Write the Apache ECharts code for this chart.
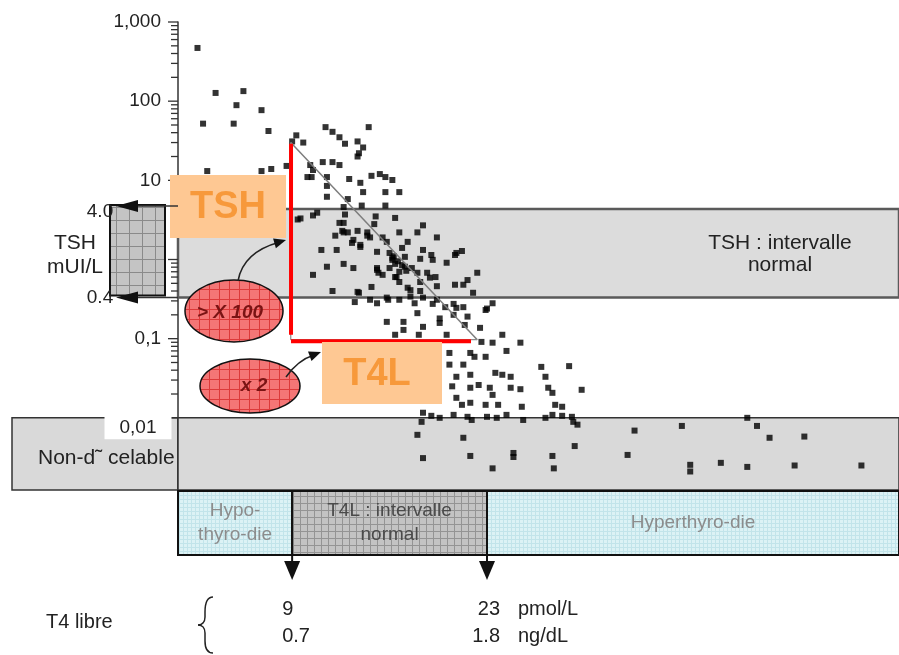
<!DOCTYPE html>
<html>
<head>
<meta charset="utf-8">
<title>TSH / T4 libre</title>
<script src="https://cdn.jsdelivr.net/npm/echarts@6/dist/echarts.min.js"></script>
<style>
    html, body { margin: 0; padding: 0; background: #fff; }
    #chart { width: 899px; height: 655px; }
</style>
</head>
<body>
<div id="chart"></div>
<script>

// Data
// ------------------------------

// [T4 libre (pmol/L), TSH (mUI/L)]
var patients = [
    [2.2,470],[3.5,127],[5.5,134],[5.0,89],[6.8,77],[2.6,52],[4.8,52],[7.3,42],[9.3,37],[9.0,31],[9.8,30],
    [2.9,13.1],[6.8,13.1],[7.5,13.9],[8.6,15.2],[10.1,11.0],[9.4,3.2],
    [11.4,47],[11.9,41],[12.4,35],[12.8,29],[13.7,31],[14.5,47],[14.1,26],[13.8,22],[13.7,20],
    [11.2,17],[11.9,17],[12.4,15.6],[10.3,15.6],[10.5,13.5],[10.4,11.0],[13.1,10.4],[13.9,9.3],
    [14.7,11.4],[15.3,12.0],[15.7,11.0],[16.2,10.1],[11.5,8.5],[14.1,7.1],[15.7,7.1],[16.7,7.1],
    [13.0,5.8],[11.5,6.2],[12.7,4.6],[14.0,4.8],[15.7,4.8],[10.8,3.9],[9.6,3.3],[12.8,3.7],
    [12.7,2.9],[15.0,3.5],[16.4,3.35],[14.9,2.8],[18.4,2.7],[12.6,2.3],[12.1,2.0],[13.7,2.3],
    [14.4,2.0],[16.7,2.2],[18.0,2.2],[19.4,1.9],[11.1,1.32],[12.2,1.32],[13.3,1.62],[13.9,1.44],
    [15.1,1.25],[15.8,1.67],[17.3,1.67],[16.9,1.40],[18.4,1.32],[21.2,1.28],[20.7,1.14],[16.2,1.05],
    [17.1,1.08],[18.2,1.02],[19.0,1.14],[10.5,0.64],[11.5,0.81],[12.7,0.88],[13.4,0.78],[15.1,0.78],
    [16.0,0.78],[16.7,0.70],[17.6,0.78],[20.1,0.91],[15.2,0.68],[16.4,0.60],[16.7,0.52],[18.7,0.68],
    [19.3,0.60],[20.7,0.48],[21.3,0.48],[22.3,0.68],[11.9,0.40],[13.8,0.38],[14.7,0.45],[17.3,0.44],
    [18.2,0.40],[19.4,0.46],[22.0,0.38],[13.5,0.29],[14.6,0.31],[15.1,0.28],[15.9,0.31],[17.8,0.28],
    [18.4,0.33],[19.1,0.275],[20.6,0.275],[21.3,0.25],[22.9,0.23],[23.4,0.28],[15.8,0.163],[17.0,0.163],
    [18.0,0.21],[18.4,0.141],[19.6,0.18],[20.6,0.20],[21.6,0.19],[22.5,0.137],[16.4,0.112],[17.0,0.129],
    [18.1,0.112],[22.6,0.091],[23.4,0.089],
    [12.4,2.9],[12.7,2.2],[13.4,1.77],[13.9,1.53],[14.4,2.2],[15.5,1.9],[16.0,1.21],[16.2,0.99],
    [15.1,0.74],[15.5,0.64],[16.5,0.60],[17.1,0.81],[17.5,0.41],[18.0,0.68],[18.2,0.52],[18.9,0.59],
    [19.1,0.99],[20.8,1.21],[21.6,0.55],[13.7,0.39],[15.8,0.33],[16.7,0.31],[17.5,0.34],[19.4,0.31],
    [20.0,0.25],[20.8,0.245],[23.0,0.24],[19.6,0.158],[21.4,0.149],
    [16.3,1.1],[16.6,0.95],[16.9,0.85],[17.2,0.72],[16.4,0.88],[13.0,2.2],[14.6,1.9],[10.5,3.6],[11.5,11.0],
    [20.1,0.112],[24.1,0.112],[25.4,0.089],[24.4,0.070],[20.3,0.066],[21.8,0.066],[22.1,0.059],[22.9,0.059],
    [20.3,0.047],[21.3,0.047],[23.6,0.037],[24.1,0.035],[20.8,0.033],[21.8,0.035],[24.7,0.033],[26.9,0.044],
    [27.2,0.033],[28.9,0.045],[20.5,0.025],[21.8,0.024],[22.4,0.026],[23.2,0.024],[23.4,0.0195],[24.7,0.024],
    [25.4,0.023],[27.4,0.024],[27.7,0.0207],[20.8,0.0179],[21.2,0.0146],[21.8,0.0155],[22.9,0.0146],[23.8,0.0146],
    [25.5,0.0138],[27.9,0.0146],[28.4,0.0138],[18.4,0.0116],[19.0,0.0106],[19.6,0.0100],[20.6,0.0109],[21.6,0.0103],
    [21.9,0.0094],[23.0,0.0103],[23.7,0.0100],[24.4,0.0109],[25.6,0.0094],[27.2,0.0100],[27.7,0.0109],[28.4,0.0106],
    [29.1,0.0103],[18.3,0.0089],[29.2,0.0089],[29.8,0.0226],
    [29.5,0.0082],[29.3,0.0044],[33.6,0.0069],[33.1,0.0034],[37.0,0.0079],[37.6,0.00255],[37.6,0.0021],[39.8,0.0027],
    [41.7,0.0100],[42.4,0.0079],[41.7,0.0024],[43.3,0.0056],[45.1,0.0025],[45.8,0.0058],[49.9,0.0025],
    [18.0,0.0061],[18.4,0.0031],[21.3,0.0056],[21.8,0.0033],[23.4,0.0023],[24.9,0.0036],[24.9,0.0032],[27.7,0.0033],[27.8,0.0023]
];

// TSH normal band as drawn (labelled 0.4 - 4.0)
var tshBand = [0.33, 4.35];
var tshLabels = ['0.4', '4.0'];
// detection limit and lower edge of the "non-détectable" band
var detectBand = [0.00123, 0.01];
// T4L normal interval (pmol/L)
var t4Normal = [9, 23];

// regression line and the triangle legs
var regression = [[8.9, 30], [22.3, 0.097]];
var redVertical = [[8.92, 29], [8.92, 0.112]];
var redHorizontal = [[8.92, 0.093], [21.85, 0.093]];

// y axis ticks
var majorTicks = [1000, 100, 10, 1, 0.1, 0.01];
var tickLabels = { '1000': '1,000', '100': '100', '10': '10', '0.1': '0,1' };

// bottom zones
var zones = [
    { text: 'Hypo-\nthyro-die', from: 0.8, to: 9 },
    { text: 'T4L : intervalle\nnormal', from: 9, to: 23 },
    { text: 'Hyperthyro-die', from: 23, to: 52.6 }
];


// Setup
// ------------------------------

var FONT = '"Liberation Sans", Arial, sans-serif';
var X_MIN = 0.8, X_MAX = 52.6;

// small canvas tile for the hatched fills
function gridPattern(bg, line, step) {
    var c = document.createElement('canvas');
    c.width = step;
    c.height = step;
    var g = c.getContext('2d');
    g.fillStyle = bg;
    g.fillRect(0, 0, step, step);
    g.strokeStyle = line;
    g.lineWidth = 1;
    g.beginPath();
    g.moveTo(step - 0.5, 0); g.lineTo(step - 0.5, step);
    g.moveTo(0, step - 0.5); g.lineTo(step, step - 0.5);
    g.stroke();
    return { image: c, repeat: 'repeat' };
}

var cyanFill = gridPattern('#dcf2f5', '#c2e4ea', 4);
var greyFill = gridPattern('#c3c3c3', '#949494', 7);
var boxFill = gridPattern('#c4c4c4', '#8a8a8a', 13);
var redFill = gridPattern('#f47676', '#dc3a3a', 10);

var minorTicks = [];
for (var e = -2; e < 3; e++) {
    for (var m = 2; m < 10; m++) {
        minorTicks.push(+(m * Math.pow(10, e)).toPrecision(3));
    }
}
var tickData = [];
majorTicks.forEach(function(v) { tickData.push([X_MIN, v, 1]); });
minorTicks.forEach(function(v) { tickData.push([X_MIN, v, 0]); });

var chart = echarts.init(document.getElementById('chart'));

chart.setOption({
    animation: false,
    textStyle: { fontFamily: FONT },
    grid: [
        { left: 178, right: 0, top: 22, height: 475 },
        { left: 178, right: 0, top: 491, height: 64 }
    ],
    xAxis: [
        { type: 'value', min: X_MIN, max: X_MAX, show: false },
        { type: 'value', gridIndex: 1, min: X_MIN, max: X_MAX, show: false }
    ],
    yAxis: [
        {
            type: 'log',
            min: 0.001,
            max: 1000,
            splitNumber: 6,
            axisLine: { show: true, lineStyle: { color: '#333', width: 1.5 } },
            axisTick: { show: false },
            splitLine: { show: false },
            axisLabel: {
                margin: 17,
                fontSize: 19,
                color: '#222',
                formatter: function(v) {
                    return tickLabels[String(+v.toPrecision(6))] || '';
                }
            }
        },
        { type: 'value', gridIndex: 1, min: 0, max: 1, show: false }
    ],
    series: [
        {
            // shaded bands
            type: 'scatter',
            data: [],
            z: 1,
            silent: true,
            markArea: {
                silent: true,
                data: [
                    [
                        { yAxis: tshBand[1], itemStyle: { color: '#dcdcdc', borderColor: '#5a5a5a', borderWidth: 2.5 } },
                        { yAxis: tshBand[0] }
                    ],
                    [
                        { yAxis: detectBand[1], itemStyle: { color: '#d9d9d9', borderColor: '#333', borderWidth: 1.5 } },
                        { yAxis: detectBand[0] }
                    ]
                ]
            }
        },
        {
            type: 'scatter',
            data: patients,
            symbol: 'rect',
            symbolSize: [6, 6],
            itemStyle: { color: '#000' },
            z: 3
        },
        {
            type: 'line',
            data: regression,
            symbol: 'none',
            lineStyle: { color: '#7d7d7d', width: 1.5 },
            z: 4
        },
        {
            type: 'line',
            data: [regression[0], [regression[0][0], regression[1][1]], regression[1]],
            symbol: 'none',
            lineStyle: { color: '#8a8a8a', width: 1.2 },
            z: 4
        },
        {
            type: 'line',
            data: redVertical,
            symbol: 'none',
            lineStyle: { color: '#ff0000', width: 4 },
            z: 5
        },
        {
            type: 'line',
            data: redHorizontal,
            symbol: 'none',
            lineStyle: { color: '#ff0000', width: 4 },
            z: 5
        },
        {
            // log ticks of the TSH axis
            type: 'custom',
            data: tickData,
            encode: { x: 0, y: 1 },
            clip: false,
            silent: true,
            z: 6,
            renderItem: function(params, api) {
                var p = api.coord([api.value(0), api.value(1)]);
                var len = api.value(2) ? 10 : 7;
                return {
                    type: 'line',
                    shape: { x1: p[0] - len, y1: p[1], x2: p[0], y2: p[1] },
                    style: { stroke: '#333', lineWidth: 1.3 }
                };
            }
        },
        {
            // T4L zones under the plot
            type: 'scatter',
            xAxisIndex: 1,
            yAxisIndex: 1,
            data: [],
            silent: true,
            markArea: {
                silent: true,
                data: zones.map(function(z, i) {
                    return [
                        {
                            xAxis: z.from, yAxis: 0,
                            itemStyle: { color: i === 1 ? greyFill : cyanFill, borderColor: '#111', borderWidth: 2 },
                            label: {
                                show: true,
                                position: 'inside',
                                formatter: z.text,
                                fontSize: 19,
                                lineHeight: 24,
                                color: i === 1 ? '#4a4a4a' : '#8c8c8c'
                            }
                        },
                        { xAxis: z.to, yAxis: 1 }
                    ];
                })
            }
        }
    ]
});


// Annotations placed from the axes
// ------------------------------

function toPx(x, y) { return chart.convertToPixel({ gridIndex: 0 }, [x, y]); }

var axisX = toPx(X_MIN, 1)[0];
var yTshTop = toPx(X_MIN, tshBand[1])[1];
var yTshBot = toPx(X_MIN, tshBand[0])[1];
var yDetTop = toPx(X_MIN, detectBand[1])[1];
var yDetBot = toPx(X_MIN, detectBand[0])[1];
var xLow = chart.convertToPixel({ gridIndex: 1 }, [t4Normal[0], 0])[0];
var xHigh = chart.convertToPixel({ gridIndex: 1 }, [t4Normal[1], 0])[0];
var zoneBottom = chart.convertToPixel({ gridIndex: 1 }, [X_MIN, 0])[1];

function txt(text, x, y, opt) {
    var s = {
        text: text, x: x, y: y,
        fontFamily: FONT, fontSize: 20, fill: '#222',
        align: 'center', verticalAlign: 'middle'
    };
    for (var k in opt) s[k] = opt[k];
    return { type: 'text', z: 60, style: s };
}

function arrowHead(x, y, dx, dy, len, w) {
    var n = Math.sqrt(dx * dx + dy * dy);
    dx /= n; dy /= n;
    var bx = x - dx * len, by = y - dy * len;
    return {
        type: 'polygon', z: 60,
        shape: { points: [[x, y], [bx - dy * w, by + dx * w], [bx + dy * w, by - dx * w]] },
        style: { fill: '#111' }
    };
}

var g = [];

// left part of the non-detectable band
g.push({ type: 'rect', z: 0, shape: { x: 12, y: yDetTop, width: axisX - 12, height: yDetBot - yDetTop },
    style: { fill: '#d9d9d9', stroke: '#333', lineWidth: 1.5 } });
g.push(txt('0,01', 138, yDetTop + 10, { fontSize: 19, backgroundColor: '#fff', padding: [2, 15, 2, 15] }));
g.push(txt('Non-d\u02dc celable', 38, yDetTop + 40, { align: 'left', fontSize: 21 }));

// TSH scale box at the left
g.push({ type: 'rect', z: 50, shape: { x: 110, y: yTshTop - 4, width: 55, height: yTshBot - yTshTop + 2 },
    style: { fill: boxFill, stroke: '#111', lineWidth: 2 } });
[yTshTop - 3, yTshBot].forEach(function(y) {
    g.push({ type: 'line', z: 55, shape: { x1: 136, y1: y, x2: axisX, y2: y }, style: { stroke: '#333', lineWidth: 1.5 } });
    g.push(arrowHead(116, y, -1, 0, 22, 6));
});
g.push(txt(tshLabels[1], 100, yTshTop + 3, { fontSize: 19 }));
g.push(txt(tshLabels[0], 100, yTshBot, { fontSize: 19 }));
g.push(txt('TSH', 75, 243, { fontSize: 21 }));
g.push(txt('mUI/L', 75, 267, { fontSize: 21 }));

// TSH normal band caption
g.push(txt('TSH : intervalle\nnormal', 780, 254, { fontSize: 21, lineHeight: 22 }));

// orange tags
g.push({ type: 'rect', z: 50, shape: { x: 170, y: 175, width: 116, height: 63 }, style: { fill: '#fec893' } });
g.push(txt('TSH', 228, 208, { fontSize: 38, fontWeight: 'bold', fill: '#f7993b' }));
g.push({ type: 'rect', z: 50, shape: { x: 322, y: 342, width: 120, height: 62 }, style: { fill: '#fec893' } });
g.push(txt('T4L', 377, 375, { fontSize: 38, fontWeight: 'bold', fill: '#f7993b' }));

// red ellipses with arrows
g.push({ type: 'ellipse', z: 55, shape: { cx: 234, cy: 311, rx: 49, ry: 31 }, style: { fill: redFill, stroke: '#111', lineWidth: 1.5 } });
g.push(txt('> X 100', 230, 313, { fontSize: 19, fontWeight: 'bold', fontStyle: 'italic', fill: '#7a1414' }));
g.push({ type: 'ellipse', z: 55, shape: { cx: 250, cy: 386, rx: 50, ry: 27 }, style: { fill: redFill, stroke: '#111', lineWidth: 1.5 } });
g.push(txt('x 2', 254, 386, { fontSize: 19, fontWeight: 'bold', fontStyle: 'italic', fill: '#7a1414' }));

g.push({ type: 'bezierCurve', z: 58, shape: { x1: 238, y1: 281, x2: 280, y2: 242, cpx1: 243, cpy1: 252 },
    style: { stroke: '#222', lineWidth: 1.5, fill: null } });
g.push(arrowHead(286, 240, 38, -11, 12, 5));
g.push({ type: 'bezierCurve', z: 58, shape: { x1: 286, y1: 377, x2: 314, y2: 355, cpx1: 298, cpy1: 360 },
    style: { stroke: '#222', lineWidth: 1.5, fill: null } });
g.push(arrowHead(321, 352, 16, -6, 12, 5));

// arrows under the T4L zones
[xLow, xHigh].forEach(function(x) {
    g.push({ type: 'line', z: 55, shape: { x1: x, y1: zoneBottom, x2: x, y2: zoneBottom + 8 }, style: { stroke: '#111', lineWidth: 2 } });
    g.push({ type: 'polygon', z: 55, shape: { points: [[x - 8, zoneBottom + 6], [x + 8, zoneBottom + 6], [x, zoneBottom + 25]] },
        style: { fill: '#111' } });
});

// T4 libre units
g.push(txt('T4 libre', 46, 622, { align: 'left', fontSize: 20 }));
g.push({ type: 'bezierCurve', z: 55, shape: { x1: 213, y1: 597, x2: 205, y2: 612, cpx1: 207, cpy1: 597, cpx2: 205, cpy2: 603 }, style: { stroke: '#222', lineWidth: 1.5, fill: null } });
g.push({ type: 'line', z: 55, shape: { x1: 205, y1: 612, x2: 205, y2: 617 }, style: { stroke: '#222', lineWidth: 1.5 } });
g.push({ type: 'bezierCurve', z: 55, shape: { x1: 205, y1: 617, x2: 198, y2: 625, cpx1: 205, cpy1: 622, cpx2: 202, cpy2: 625 }, style: { stroke: '#222', lineWidth: 1.5, fill: null } });
g.push({ type: 'bezierCurve', z: 55, shape: { x1: 198, y1: 625, x2: 205, y2: 633, cpx1: 202, cpy1: 625, cpx2: 205, cpy2: 628 }, style: { stroke: '#222', lineWidth: 1.5, fill: null } });
g.push({ type: 'line', z: 55, shape: { x1: 205, y1: 633, x2: 205, y2: 641 }, style: { stroke: '#222', lineWidth: 1.5 } });
g.push({ type: 'bezierCurve', z: 55, shape: { x1: 205, y1: 641, x2: 213, y2: 653, cpx1: 205, cpy1: 648, cpx2: 207, cpy2: 653 }, style: { stroke: '#222', lineWidth: 1.5, fill: null } });

g.push(txt(String(t4Normal[0]), xLow - 10, 609, { align: 'left', fontSize: 20 }));
g.push(txt('0.7', xLow - 10, 636, { align: 'left', fontSize: 20 }));
g.push(txt(String(t4Normal[1]), xHigh + 13, 609, { align: 'right', fontSize: 20 }));
g.push(txt('1.8', xHigh + 13, 636, { align: 'right', fontSize: 20 }));
g.push(txt('pmol/L', 518, 609, { align: 'left', fontSize: 20 }));
g.push(txt('ng/dL', 518, 636, { align: 'left', fontSize: 20 }));

chart.setOption({ graphic: g });

</script>
</body>
</html>
